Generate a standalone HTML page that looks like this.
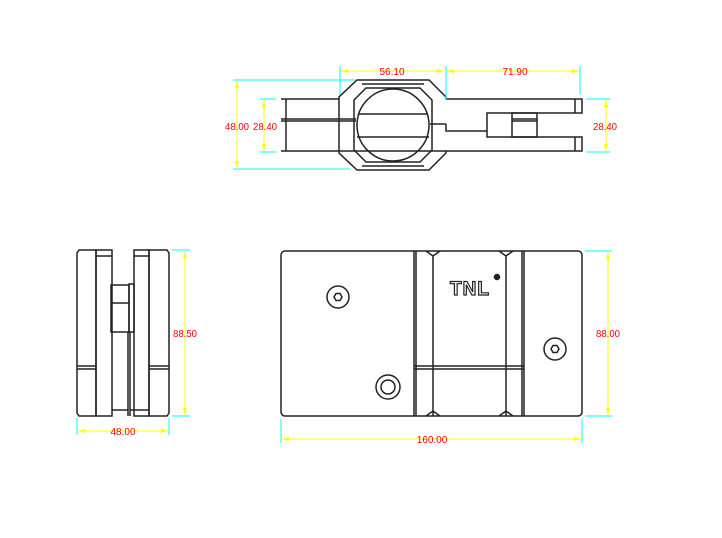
<!DOCTYPE html>
<html><head><style>body{margin:0;background:#fff}svg{display:block}</style></head><body>
<svg width="722" height="538" viewBox="0 0 722 538" xmlns="http://www.w3.org/2000/svg" font-family="Liberation Sans, sans-serif">
<g fill="none" stroke="#222" stroke-width="1.5">
<!-- TOP VIEW -->
<path d="M281,99 L339,99 L339,97 L357,80 L429,80 L446,97 L446,99 L582,99 L582,113 L575,113 L575,99 M575,113 L487,113 L487,137 L575,137 L575,151 L582,151 L582,137 L575,137 M582,151 L446,151 L446,153 L429,170 L357,170 L339,153 L339,151 L281,151 Z"/>
<path d="M362,84 L424,84 M362,166 L424,166"/>
<line x1="286" y1="99" x2="286" y2="151"/>
<line x1="281" y1="119" x2="356" y2="119"/><line x1="281" y1="121" x2="356" y2="121"/>
<line x1="339" y1="99" x2="339" y2="151"/>
<polygon points="366,88 420,88 432,100 432,150 420,162 366,162 354,150 354,100"/>
<circle cx="393" cy="125" r="36"/>
<line x1="358" y1="114" x2="428" y2="114"/><line x1="357" y1="137" x2="429" y2="137"/>
<line x1="430" y1="124" x2="446" y2="124"/>
<path d="M446,124 L446,131 L487,131"/>
<rect x="512" y="113" width="25" height="24"/>
<line x1="512" y1="119" x2="537" y2="119"/><line x1="512" y1="121" x2="537" y2="121"/>
<!-- SIDE VIEW -->
<path d="M79,250 L96,250 L96,416 L79,416 L77,413 L77,253 Z"/>
<path d="M149,250 L167,250 L169,253 L169,413 L167,416 L149,416 Z"/>
<rect x="96" y="250" width="16" height="166"/>
<rect x="134" y="250" width="15" height="166"/>
<line x1="96" y1="256" x2="112" y2="256"/><line x1="134" y1="256" x2="149" y2="256"/>
<rect x="111" y="285" width="18" height="47"/>
<line x1="111" y1="303" x2="129" y2="303"/>
<rect x="129" y="284" width="5" height="48"/>
<line x1="128" y1="332" x2="128" y2="416"/><line x1="130" y1="332" x2="130" y2="416"/>
<line x1="112" y1="410" x2="128" y2="410"/><line x1="130" y1="410" x2="149" y2="410"/>
<line x1="77" y1="366" x2="96" y2="366"/><line x1="77" y1="369" x2="96" y2="369"/>
<line x1="149" y1="366" x2="169" y2="366"/><line x1="149" y1="369" x2="169" y2="369"/>
<!-- FRONT VIEW -->
<rect x="281" y="251" width="301" height="165" rx="4"/>
<line x1="414" y1="251" x2="414" y2="416"/><line x1="416" y1="251" x2="416" y2="416"/>
<line x1="433" y1="256" x2="433" y2="416"/><line x1="506" y1="256" x2="506" y2="416"/>
<line x1="522" y1="251" x2="522" y2="416"/><line x1="524" y1="251" x2="524" y2="416"/>
<path d="M426,251 L433,256 L440,251 M499,251 L506,256 L513,251"/>
<path d="M426,416 L433,411 L440,416 M499,416 L506,411 L513,416"/>
<line x1="414" y1="366" x2="524" y2="366"/><line x1="414" y1="369" x2="524" y2="369"/>
<circle cx="338" cy="297" r="11"/>
<polygon points="334,297 336,293.5 340,293.5 342,297 340,300.5 336,300.5"/>
<circle cx="555" cy="349" r="11"/>
<polygon points="551,349 553,345.5 557,345.5 559,349 557,352.5 553,352.5"/>
<circle cx="388" cy="387" r="12"/><circle cx="388" cy="387" r="7"/>
<circle cx="497" cy="277" r="2.5" fill="#222"/>
</g>
<text x="470" y="295" text-anchor="middle" font-size="19" font-weight="bold" fill="#fff" stroke="#222" stroke-width="1.2" letter-spacing="1">TNL</text>
<!-- DIMENSIONS -->
<g stroke="#0ff" stroke-width="1">
<line x1="340" y1="66" x2="340" y2="95"/><line x1="446" y1="66" x2="446" y2="100"/><line x1="580" y1="66" x2="580" y2="94"/>
<line x1="233" y1="80" x2="355" y2="80"/><line x1="233" y1="169" x2="350" y2="169"/>
<line x1="260" y1="99" x2="276" y2="99"/><line x1="260" y1="152" x2="276" y2="152"/>
<line x1="586" y1="99" x2="610" y2="99"/><line x1="586" y1="152" x2="610" y2="152"/>
<line x1="172" y1="250" x2="190" y2="250"/><line x1="172" y1="416" x2="190" y2="416"/>
<line x1="77" y1="418" x2="77" y2="435"/><line x1="169" y1="418" x2="169" y2="435"/>
<line x1="585" y1="251" x2="612" y2="251"/><line x1="585" y1="416" x2="612" y2="416"/>
<line x1="281" y1="419" x2="281" y2="443"/><line x1="582" y1="419" x2="582" y2="443"/>
</g>
<g stroke="#ff0" stroke-width="1">
<line x1="341" y1="71" x2="444" y2="71"/><line x1="447" y1="71" x2="579" y2="71"/>
<line x1="237" y1="81" x2="237" y2="168"/>
<line x1="264" y1="100" x2="264" y2="151"/><line x1="606" y1="100" x2="606" y2="151"/>
<line x1="185" y1="251" x2="185" y2="415"/>
<line x1="78" y1="431" x2="168" y2="431"/>
<line x1="608" y1="252" x2="608" y2="415"/>
<line x1="282" y1="439" x2="581" y2="439"/>
</g>
<g fill="#ff0">
<path d="M341,71 l7,-2 v4z M444,71 l-7,-2 v4z M447,71 l7,-2 v4z M579,71 l-7,-2 v4z"/>
<path d="M237,81 l-2,7 h4z M237,168 l-2,-7 h4z M264,100 l-2,7 h4z M264,151 l-2,-7 h4z M606,100 l-2,7 h4z M606,151 l-2,-7 h4z"/>
<path d="M185,251 l-2,7 h4z M185,415 l-2,-7 h4z M608,252 l-2,7 h4z M608,415 l-2,-7 h4z"/>
<path d="M78,431 l7,-2 v4z M168,431 l-7,-2 v4z M282,439 l7,-2 v4z M581,439 l-7,-2 v4z"/>
</g>
<g fill="#f00" font-size="10" text-anchor="middle">
<text x="392" y="75">56.10</text>
<text x="515" y="75">71.90</text>
<text x="237" y="130" textLength="24" lengthAdjust="spacingAndGlyphs">48.00</text>
<text x="265" y="130" textLength="24" lengthAdjust="spacingAndGlyphs">28.40</text>
<text x="605" y="130" textLength="24" lengthAdjust="spacingAndGlyphs">28.40</text>
<text x="185" y="337" textLength="24" lengthAdjust="spacingAndGlyphs">88.50</text>
<text x="123" y="435">48.00</text>
<text x="608" y="337" textLength="24" lengthAdjust="spacingAndGlyphs">88.00</text>
<text x="432" y="443">160.00</text>
</g>
</svg>
</body></html>
